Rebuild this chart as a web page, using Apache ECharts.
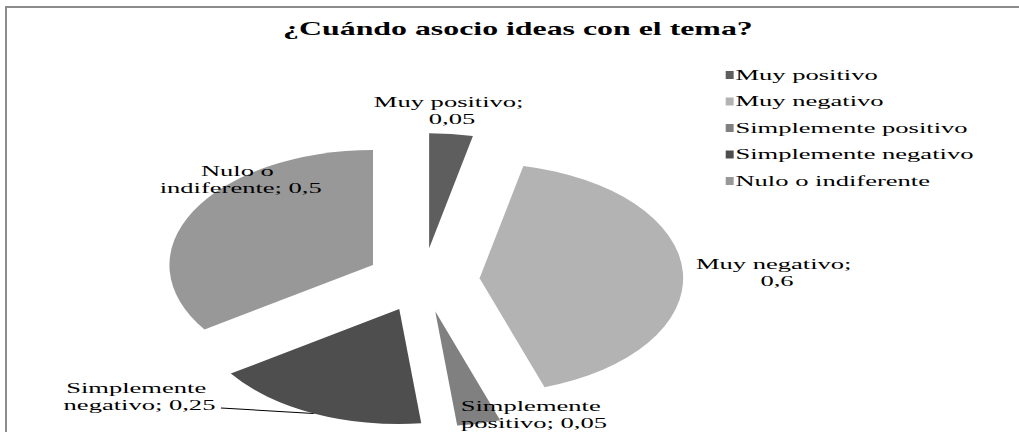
<!DOCTYPE html>
<html>
<head>
<meta charset="utf-8">
<script src="https://cdn.jsdelivr.net/npm/echarts@6/dist/echarts.min.js"></script>
<style>
  html, body { margin: 0; padding: 0; background: #fff; }
  #wrap { position: relative; width: 1019px; height: 432px; overflow: hidden; background: #fff; }
  #frame { position: absolute; left: 5px; top: 6px; width: 1020px; height: 430px;
           border-left: 2px solid #8c8c8c; border-top: 2px solid #8c8c8c; box-sizing: border-box; }
  #chart { position: absolute; left: 0; top: 0; width: 575.7px; height: 432px;
           transform: scaleX(1.77); transform-origin: 0 0; }
</style>
</head>
<body>
<div id="wrap">
  <div id="frame"></div>
  <div id="chart"></div>
</div>
<script>
const titleText = '¿Cuándo asocio ideas con el tema?';
const categories = ['Muy positivo', 'Muy negativo', 'Simplemente positivo', 'Simplemente negativo', 'Nulo o indiferente'];
const values = [0.05, 0.6, 0.05, 0.25, 0.5];
const colors = ['#5e5e5e', '#b3b3b3', '#808080', '#4e4e4e', '#989898'];

const FONT = "'Liberation Serif', 'Times New Roman', serif";
const PIE_CENTER = [239, 280];
const PIE_R = 115;
const EXPLODE = 32;

function fmt(v) { return String(v).replace('.', ','); }

// exploded slices (marks)
const sliceData = categories.map((name, i) => ({
  name: name, value: values[i], selected: true, itemStyle: { color: colors[i] }
}));
// same slices, transparent, carrying the data labels
const labelData = categories.map((name, i) => ({
  name: name, value: values[i], labelLine: { show: i === 3 }
}));

// label placement relative to each (unexploded) slice's bounding box
function placeLabel(p) {
  const r = p.rect, i = p.dataIndex;
  let x, y;
  if (i === 0) { x = r.x + r.width / 2 + 4; y = r.y - 37 - p.labelRect.height / 2; }
  else if (i === 1) { x = r.x + r.width + 85; y = r.y + r.height / 2 - 6; }
  else if (i === 2) { x = r.x + r.width + 26; y = r.y + r.height + 20; }
  else if (i === 3) { x = r.x - 65; y = r.y + r.height + 2; }
  else { x = r.x + 12; y = r.y + 15; }
  const out = { x: x, y: y, align: 'center', verticalAlign: 'middle' };
  if (i === 3 && p.labelLinePoints) {
    const p0 = p.labelLinePoints[0];
    const dx = p0[0] - PIE_CENTER[0], dy = p0[1] - PIE_CENTER[1];
    const len = Math.sqrt(dx * dx + dy * dy) || 1;
    const s = [PIE_CENTER[0] + dx / len * (PIE_R + EXPLODE), PIE_CENTER[1] + dy / len * (PIE_R + EXPLODE)];
    out.labelLinePoints = [s, [x + 46, y + 11]];
  }
  return out;
}

const chart = echarts.init(document.getElementById('chart'), null, { renderer: 'svg' });

chart.setOption({
  animation: false,
  title: {
    text: titleText,
    left: '50.8%',
    textAlign: 'center',
    top: 20,
    padding: 0,
    textStyle: { fontFamily: FONT, fontWeight: 'bold', fontSize: 18, color: '#000' }
  },
  legend: {
    orient: 'vertical',
    left: 410,
    top: 67,
    padding: 0,
    icon: 'rect',
    itemWidth: 4.5,
    itemHeight: 8,
    itemGap: 10.5,
    selectedMode: false,
    textStyle: { fontFamily: FONT, fontSize: 15, color: '#000', lineHeight: 16, padding: [0, 0, 0, -4] },
    data: categories
  },
  series: [{
    type: 'pie',
    center: PIE_CENTER,
    radius: PIE_R,
    startAngle: 90,
    clockwise: true,
    selectedMode: 'multiple',
    selectedOffset: EXPLODE,
    emphasis: { disabled: true },
    itemStyle: { borderWidth: 0 },
    label: { show: false },
    labelLine: { show: false },
    data: sliceData
  }, {
    type: 'pie',
    center: PIE_CENTER,
    radius: PIE_R,
    startAngle: 90,
    clockwise: true,
    silent: true,
    avoidLabelOverlap: false,
    emphasis: { disabled: true },
    itemStyle: { color: 'rgba(0,0,0,0)', borderWidth: 0 },
    label: {
      show: true,
      position: 'outside',
      width: 94,
      overflow: 'break',
      align: 'center',
      fontFamily: FONT,
      fontSize: 15,
      lineHeight: 17,
      color: '#000',
      formatter: p => p.name + '; ' + fmt(p.value)
    },
    labelLine: { show: false, length: 4, length2: 40, lineStyle: { color: '#000', width: 1, opacity: 1 } },
    labelLayout: placeLabel,
    data: labelData
  }]
});
</script>
</body>
</html>
